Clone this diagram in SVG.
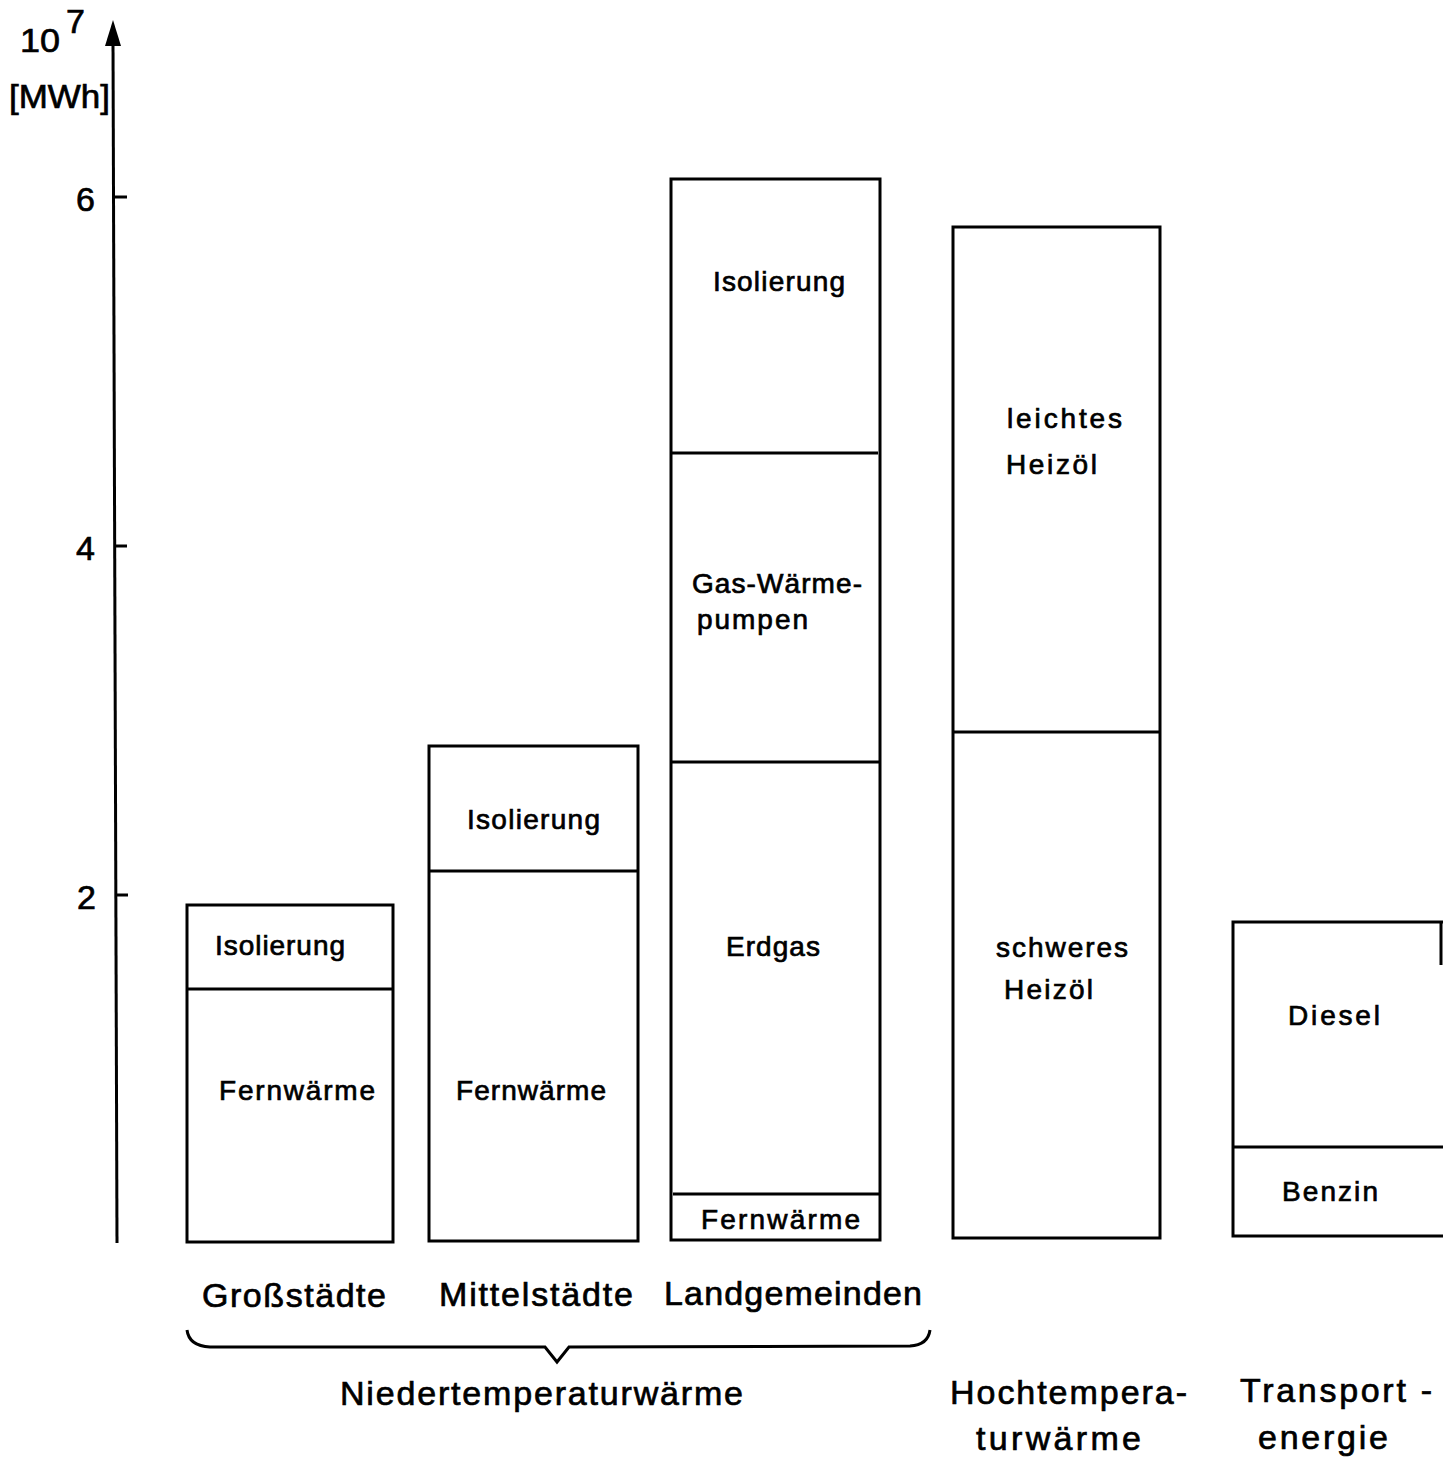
<svg xmlns="http://www.w3.org/2000/svg" width="1443" height="1457" viewBox="0 0 1443 1457">
  <style>
    .bar { fill: #fff; stroke: #000; stroke-width: 3; }
    .div { stroke: #000; stroke-width: 3; fill: none; }
    .axis { stroke: #000; stroke-width: 3; fill: none; }
    text { font-family: "Liberation Sans", "DejaVu Sans", sans-serif; fill: #000; stroke: #000; stroke-width: 0.7; }
    .lbl { font-size: 28px; }
    .cat { font-size: 34px; }
    .num { font-size: 34px; }
  </style>
  <rect width="1443" height="1457" fill="#fff"/>

  <!-- value axis -->
  <g id="axis">
    <line class="axis" x1="113" y1="42" x2="117" y2="1243"/>
    <polygon points="113,20 105,46 121,46" fill="#000"/>
    <line class="axis" x1="113" y1="197" x2="127" y2="197"/>
    <line class="axis" x1="114" y1="546" x2="127" y2="546"/>
    <line class="axis" x1="115" y1="895" x2="128" y2="895"/>
    <text class="num" x="20" y="52" font-size="30" textLength="40" lengthAdjust="spacingAndGlyphs">10</text>
    <text class="num" x="66" y="33" font-size="24">7</text>
    <text class="num" x="9" y="108" font-size="31" textLength="101" lengthAdjust="spacingAndGlyphs">[MWh]</text>
    <text class="num" x="76" y="211">6</text>
    <text class="num" x="76" y="560">4</text>
    <text class="num" x="77" y="909">2</text>
  </g>

  <!-- Großstädte -->
  <g id="bar-grossstaedte">
    <rect class="bar" x="187" y="905" width="206" height="337"/>
    <line class="div" x1="187" y1="989" x2="393" y2="989"/>
    <text class="lbl" x="215" y="955" textLength="130" lengthAdjust="spacing">Isolierung</text>
    <text class="lbl" x="219" y="1100" textLength="156" lengthAdjust="spacing">Fernwärme</text>
  </g>

  <!-- Mittelstädte -->
  <g id="bar-mittelstaedte">
    <rect class="bar" x="429" y="746" width="209" height="495"/>
    <line class="div" x1="429" y1="871" x2="638" y2="871"/>
    <text class="lbl" x="467" y="829" textLength="133" lengthAdjust="spacing">Isolierung</text>
    <text class="lbl" x="456" y="1100" textLength="150" lengthAdjust="spacing">Fernwärme</text>
  </g>

  <!-- Landgemeinden -->
  <g id="bar-landgemeinden">
    <rect class="bar" x="671" y="179" width="209" height="1061"/>
    <line class="div" x1="671" y1="453" x2="878" y2="453"/>
    <line class="div" x1="671" y1="762" x2="880" y2="762"/>
    <line class="div" x1="673" y1="1194" x2="880" y2="1194"/>
    <text class="lbl" x="713" y="291" textLength="132" lengthAdjust="spacing">Isolierung</text>
    <text class="lbl" x="692" y="593" textLength="170" lengthAdjust="spacing">Gas-Wärme-</text>
    <text class="lbl" x="697" y="629" textLength="111" lengthAdjust="spacing">pumpen</text>
    <text class="lbl" x="726" y="956" textLength="94" lengthAdjust="spacing">Erdgas</text>
    <text class="lbl" x="701" y="1229" textLength="159" lengthAdjust="spacing">Fernwärme</text>
  </g>

  <!-- Hochtemperaturwärme -->
  <g id="bar-hochtemperatur">
    <rect class="bar" x="953" y="227" width="207" height="1011"/>
    <line class="div" x1="953" y1="732" x2="1160" y2="732"/>
    <text class="lbl" x="1007" y="428" textLength="115" lengthAdjust="spacing">leichtes</text>
    <text class="lbl" x="1006" y="474" textLength="91" lengthAdjust="spacing">Heizöl</text>
    <text class="lbl" x="996" y="957" textLength="132" lengthAdjust="spacing">schweres</text>
    <text class="lbl" x="1004" y="999" textLength="89" lengthAdjust="spacing">Heizöl</text>
  </g>

  <!-- Transportenergie (right edge runs off the page) -->
  <g id="bar-transport">
    <path class="div" d="M1443,922 L1233,922 L1233,1236 L1443,1236"/>
    <line class="div" x1="1441" y1="922" x2="1441" y2="965"/>
    <line class="div" x1="1233" y1="1147" x2="1443" y2="1147"/>
    <text class="lbl" x="1288" y="1025" textLength="92" lengthAdjust="spacing">Diesel</text>
    <text class="lbl" x="1282" y="1201" textLength="96" lengthAdjust="spacing">Benzin</text>
  </g>

  <!-- category labels -->
  <g id="categories">
    <text class="cat" x="202" y="1307" textLength="184" lengthAdjust="spacing">Großstädte</text>
    <text class="cat" x="439" y="1306" textLength="194" lengthAdjust="spacing">Mittelstädte</text>
    <text class="cat" x="664" y="1305" textLength="258" lengthAdjust="spacing">Landgemeinden</text>
  </g>

  <!-- grouping brace -->
  <g id="connectors">
    <path class="div" d="M187,1330 Q189,1346 210,1347 L545,1347 L557,1362 L569,1347 L910,1346 Q928,1345 930,1330"/>
  </g>

  <!-- group labels -->
  <g id="groups">
    <text class="cat" x="340" y="1405" textLength="403" lengthAdjust="spacing">Niedertemperaturwärme</text>
    <text class="cat" x="950" y="1404" textLength="237" lengthAdjust="spacing">Hochtempera-</text>
    <text class="cat" x="976" y="1450" textLength="165" lengthAdjust="spacing">turwärme</text>
    <text class="cat" x="1240" y="1402" textLength="192" lengthAdjust="spacing">Transport -</text>
    <text class="cat" x="1258" y="1449" textLength="130" lengthAdjust="spacing">energie</text>
  </g>
</svg>
